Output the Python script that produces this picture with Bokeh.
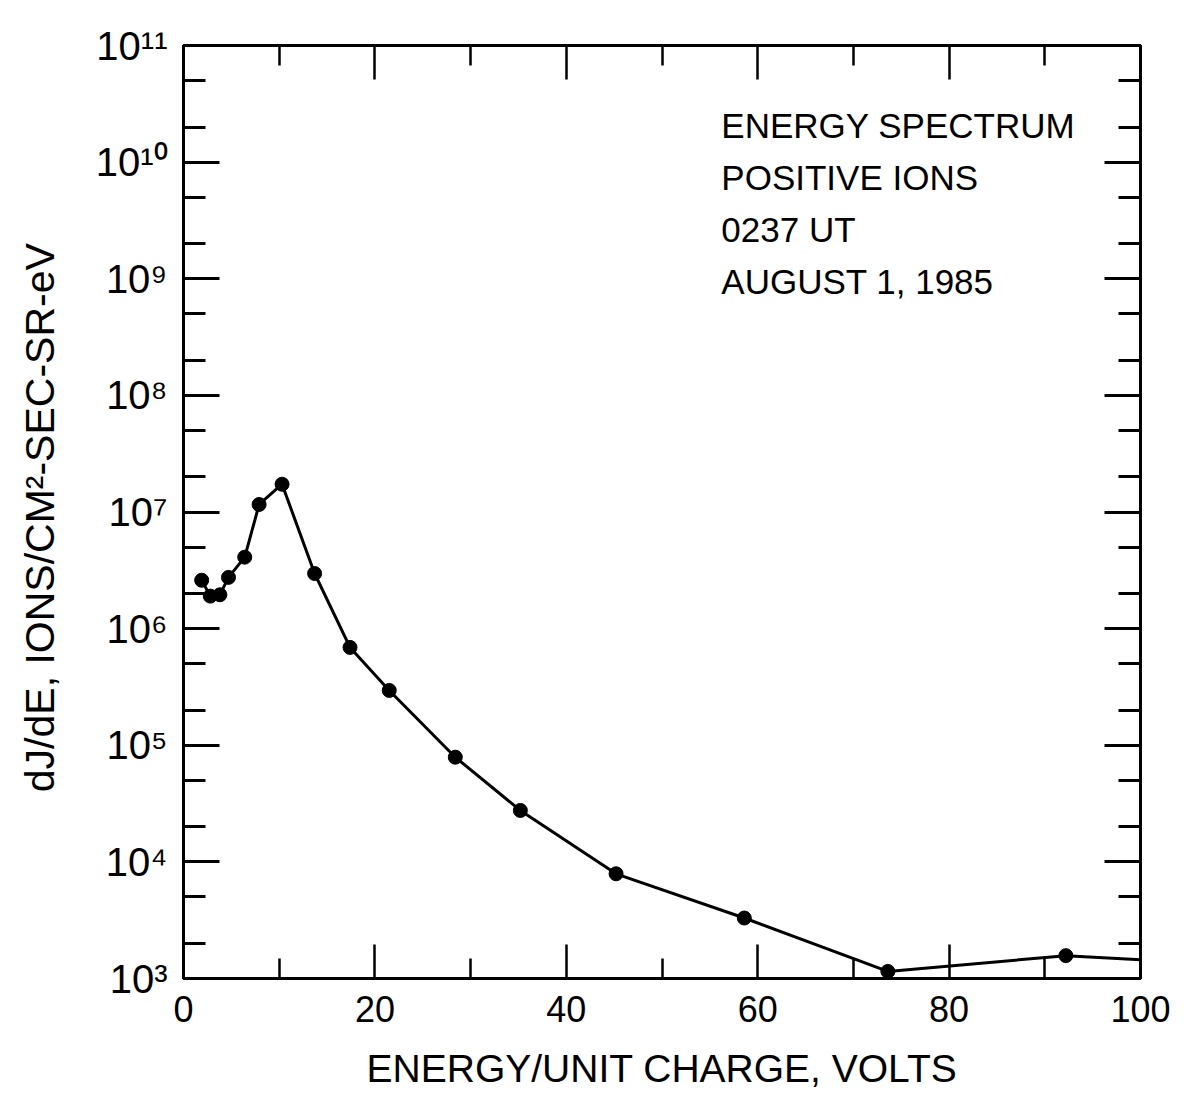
from bokeh.plotting import figure
from bokeh.models import (Range1d, FixedTicker, LinearAxis, LogAxis, Label,
                          CustomJSTickFormatter)
from bokeh.embed import file_html
from bokeh.resources import INLINE

# ---- data ----
energy = [1.9, 2.8, 3.8, 4.7, 6.4, 7.9, 10.3, 13.7, 17.4, 21.5, 28.4, 35.2,
          45.2, 58.6, 73.6, 92.2, 100.0]
flux = [2.6e6, 1.9e6, 1.95e6, 2.75e6, 4.1e6, 1.16e7, 1.73e7, 2.97e6, 6.9e5,
        2.95e5, 7.9e4, 2.76e4, 7.9e3, 3.3e3, 1.15e3, 1.57e3, 1.45e3]
has_marker = [True] * 16 + [False]

x_major = [0, 20, 40, 60, 80, 100]
x_minor = [10, 30, 50, 70, 90]
y_exponents = [3, 4, 5, 6, 7, 8, 9, 10, 11]
y_major = [10.0 ** k for k in y_exponents]
y_minor = [m * 10.0 ** k for k in y_exponents[:-1] for m in (2, 5)]

notes = ["ENERGY SPECTRUM", "POSITIVE IONS", "0237 UT", "AUGUST 1, 1985"]
x_title = "ENERGY/UNIT CHARGE, VOLTS"
y_title = "dJ/dE,  IONS/CM\u00b2-SEC-SR-eV"

SUP = str.maketrans("0123456789", "\u2070\u00b9\u00b2\u00b3\u2074\u2075\u2076\u2077\u2078\u2079")
y_labels = {v: "10" + str(k).translate(SUP) for k, v in zip(y_exponents, y_major)}

FONT = "Liberation Sans"

p = figure(width=1180, height=1095,
           x_range=Range1d(0, 100), y_range=Range1d(1e3, 1e11),
           y_axis_type="log", output_backend="svg", toolbar_location=None,
           min_border_left=183, min_border_right=40,
           min_border_top=45, min_border_bottom=117)
p.grid.visible = False
p.outline_line_color = "black"
p.outline_line_width = 3
p.background_fill_color = "white"
p.border_fill_color = "white"


def style(ax, major_in, minor_in, lw):
    ax.axis_line_width = 3
    ax.axis_line_color = "black"
    ax.major_tick_in = major_in
    ax.major_tick_out = 0
    ax.minor_tick_in = minor_in
    ax.minor_tick_out = 0
    ax.major_tick_line_width = lw
    ax.minor_tick_line_width = lw
    ax.major_tick_line_color = "black"
    ax.minor_tick_line_color = "black"


blank = CustomJSTickFormatter(code="return ''")

# bottom axis
xb = p.xaxis[0]
xb.ticker = FixedTicker(ticks=x_major, minor_ticks=x_minor)
style(xb, 34, 20, 2.5)
xb.major_label_text_font = FONT
xb.major_label_text_font_size = "36px"
xb.major_label_text_color = "black"
xb.major_label_standoff = 17
xb.axis_label = x_title
xb.axis_label_text_font = FONT
xb.axis_label_text_font_style = "normal"
xb.axis_label_text_font_size = "39px"
xb.axis_label_text_color = "black"
xb.axis_label_standoff = 22

# left axis
yl = p.yaxis[0]
yl.ticker = FixedTicker(ticks=y_major, minor_ticks=y_minor)
style(yl, 36, 22, 3)
yl.major_label_overrides = y_labels
yl.major_label_text_font = FONT
yl.major_label_text_font_size = "40px"
yl.major_label_text_color = "black"
yl.major_label_standoff = 16
yl.axis_label = y_title
yl.axis_label_text_font = FONT
yl.axis_label_text_font_style = "normal"
yl.axis_label_text_font_size = "41px"
yl.axis_label_text_color = "black"
yl.axis_label_standoff = 30

# top axis (ticks only)
xt = LinearAxis(ticker=FixedTicker(ticks=x_major, minor_ticks=x_minor),
                formatter=blank)
style(xt, 34, 20, 2.5)
p.add_layout(xt, "above")

# right axis (ticks only)
yr = LogAxis(ticker=FixedTicker(ticks=y_major, minor_ticks=y_minor),
             formatter=blank)
style(yr, 36, 22, 3)
p.add_layout(yr, "right")

# data
p.line(energy, flux, line_color="black", line_width=3)
mx = [e for e, m in zip(energy, has_marker) if m]
my = [f for f, m in zip(flux, has_marker) if m]
p.scatter(mx, my, size=14, marker="circle", fill_color="black",
          line_color="black")

# annotation block
for i, t in enumerate(notes):
    p.add_layout(Label(x=56.2, y=10 ** 10.316, y_offset=-52 * i, text=t,
                       text_align="left", text_baseline="alphabetic",
                       text_font=FONT, text_font_size="35px",
                       text_color="black"))

open("out.html", "w").write(file_html(p, INLINE))
